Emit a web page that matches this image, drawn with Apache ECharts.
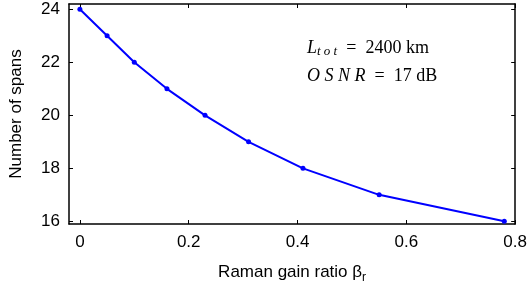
<!DOCTYPE html>
<html>
<head>
    <meta charset="utf-8">
    <title>Number of spans vs Raman gain ratio</title>
    <script src="https://cdn.jsdelivr.net/npm/echarts@6/dist/echarts.min.js"></script>
    <style>
        html, body { margin: 0; padding: 0; background: #fff; }
        #chart { width: 530px; height: 289px; }
    </style>
</head>
<body>
    <div id="chart"></div>
    <script>
    // data
    const ramanRatio = [0, 0.05, 0.1, 0.16, 0.23, 0.31, 0.41, 0.55, 0.78];
    const numSpans = [24, 23, 22, 21, 20, 19, 18, 17, 16];
    const xTicks = [0, 0.2, 0.4, 0.6, 0.8];
    const yTicks = [16, 18, 20, 22, 24];

    const points = ramanRatio.map((x, i) => [x, numSpans[i]]);

    const labelFont = { fontFamily: 'Liberation Sans', fontSize: 17, color: '#000' };
    const boxLine = { show: true, onZero: false, lineStyle: { color: '#000', width: 1.5 } };
    const tick = (vals) => ({ show: true, inside: true, length: 4, customValues: vals, lineStyle: { color: '#000', width: 1 } });
    const serif = { fontFamily: 'Liberation Serif', fontSize: 18, fill: '#000' };

    const option = {
        animation: false,
        grid: { left: 68, right: 14, top: 4, bottom: 65 },
        xAxis: [{
            type: 'value', min: -0.02, max: 0.8,
            axisLine: boxLine,
            axisTick: tick(xTicks),
            axisLabel: Object.assign({ margin: 10, customValues: xTicks, formatter: v => String(+v.toFixed(1)) }, labelFont),
            splitLine: { show: false },
            name: 'Raman gain ratio β{sub|r}',
            nameLocation: 'middle',
            nameGap: 36,
            nameTextStyle: Object.assign({
                rich: { sub: { fontFamily: 'Liberation Sans', fontSize: 12, color: '#000', padding: [12, 0, 0, 0] } }
            }, labelFont)
        }, {
            type: 'value', position: 'top', min: -0.02, max: 0.8,
            axisLine: boxLine, axisTick: tick(xTicks),
            axisLabel: { show: false }, splitLine: { show: false }
        }],
        yAxis: [{
            type: 'value', min: 15.9, max: 24.2,
            axisLine: boxLine,
            axisTick: tick(yTicks),
            axisLabel: Object.assign({ margin: 9, customValues: yTicks }, labelFont),
            splitLine: { show: false },
            name: 'Number of spans',
            nameLocation: 'middle',
            nameGap: 44,
            nameTextStyle: labelFont
        }, {
            type: 'value', position: 'right', min: 15.9, max: 24.2,
            axisLine: boxLine, axisTick: tick(yTicks),
            axisLabel: { show: false }, splitLine: { show: false }
        }],
        graphic: [{
            type: 'text', left: 307, top: 39,
            style: {
                text: '{i|L}{s|t o t}{n|  =  2400 km}',
                rich: {
                    i: Object.assign({ fontStyle: 'italic' }, serif),
                    s: Object.assign({ fontStyle: 'italic' }, serif, { fontSize: 13, padding: [8, 0, 0, 0] }),
                    n: serif
                }
            }
        }, {
            type: 'text', left: 307, top: 67,
            style: {
                text: '{i|O S N R}{n|  =  17 dB}',
                rich: {
                    i: Object.assign({ fontStyle: 'italic' }, serif),
                    n: serif
                }
            }
        }],
        series: [{
            type: 'line',
            data: points,
            symbol: 'circle',
            symbolSize: 5,
            lineStyle: { color: '#0000ff', width: 2 },
            itemStyle: { color: '#0000ff' }
        }]
    };

    const chart = echarts.init(document.getElementById('chart'));
    chart.setOption(option);
    </script>
</body>
</html>
